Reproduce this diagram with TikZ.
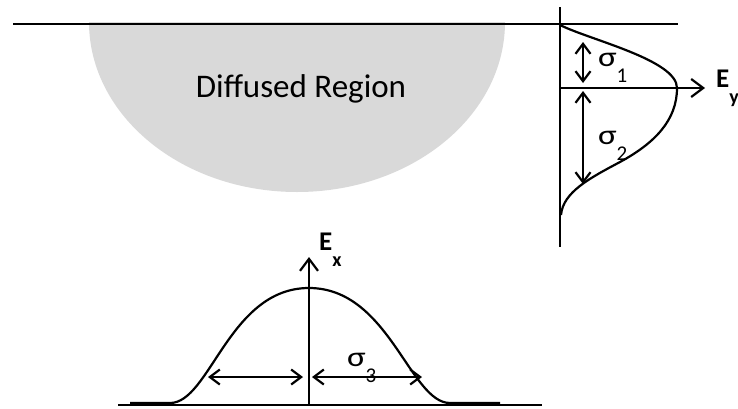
\documentclass[tikz,border=0pt]{standalone}
\usepackage{fontspec}
\setmainfont{Carlito}
\usetikzlibrary{arrows.meta}
\definecolor{regiongrey}{HTML}{D9D9D9}
\newcommand{\sgm}[1]{\scalebox{1.25}[1]{σ}\raisebox{-16pt}{\fontsize{21}{21}\selectfont #1}}
\begin{document}
\begin{tikzpicture}[x=1pt,y=-1pt,line width=2.2pt,
  axtip/.style={-{Straight Barb[length=12pt,width=18pt]}},
  dbl/.style={{Straight Barb[length=10pt,width=15pt]}-{Straight Barb[length=10pt,width=15pt]}},
  lbl/.style={inner sep=0pt,anchor=base west},
  sig/.style={lbl,font=\fontsize{28}{28}\selectfont},
  elbl/.style={lbl,font=\bfseries\fontsize{27}{27}\selectfont}]
\useasboundingbox (0,0) rectangle (738,408);
% diffused region
\fill[regiongrey] (89,22) arc[start angle=180,end angle=0,x radius=208,y radius=170] -- cycle;
\node[anchor=base,inner sep=0pt,font=\fontsize{33}{36}\selectfont] (dr) at (301,97) {Diffused Region};
% surface line
\coordinate (tl) at (13,24);
\coordinate (tr) at (678,24);
\draw (tl) -- (tr);
% Ey profile
\coordinate (vtop) at (560,7);
\coordinate (vbot) at (560,247);
\draw (vtop) -- (vbot);
\coordinate (yo) at (560,88);
\coordinate (yend) at (705,88);
\draw[axtip] (yo) -- (yend);
\node[elbl] (ey) at (715,87) {E\raisebox{-16pt}{\fontsize{20}{20}\selectfont y}};
\draw (560,25) .. controls (590,40) and (677,60) .. (677,88)
  .. controls (677,120) and (655,143) .. (620,162)
  .. controls (590,178) and (563,192) .. (561,215);
\coordinate (s1a) at (583,42);
\coordinate (s1b) at (583,83);
\coordinate (s2a) at (583,91);
\coordinate (s2b) at (583,184);
\draw[dbl] (s1a) -- (s1b);
\draw[dbl] (s2a) -- (s2b);
\node[sig] (sg1) at (597,66) {\sgm{1}};
\node[sig] (sg2) at (597,144) {\sgm{2}};
% Ex profile
\coordinate (bl) at (118,405);
\coordinate (br) at (542,405);
\draw (bl) -- (br);
\coordinate (xo) at (309,405);
\coordinate (xend) at (309,257);
\draw[axtip] (xo) -- (xend);
\node[elbl] (ex) at (318,250) {E\raisebox{-16pt}{\fontsize{20}{20}\selectfont x}};
\draw (130,403) -- (170,403) .. controls (210,403) and (229,288) .. (309,288)
  .. controls (389,288) and (410,403) .. (450,403) -- (500,403);
\coordinate (s3a) at (208,377);
\coordinate (s3b) at (303,377);
\coordinate (s3c) at (312,377);
\coordinate (s3d) at (422,377);
\draw[dbl] (s3a) -- (s3b);
\draw[dbl] (s3c) -- (s3d);
\node[sig] (sg3) at (346,366) {\sgm{3}};
\end{tikzpicture}
\end{document}
